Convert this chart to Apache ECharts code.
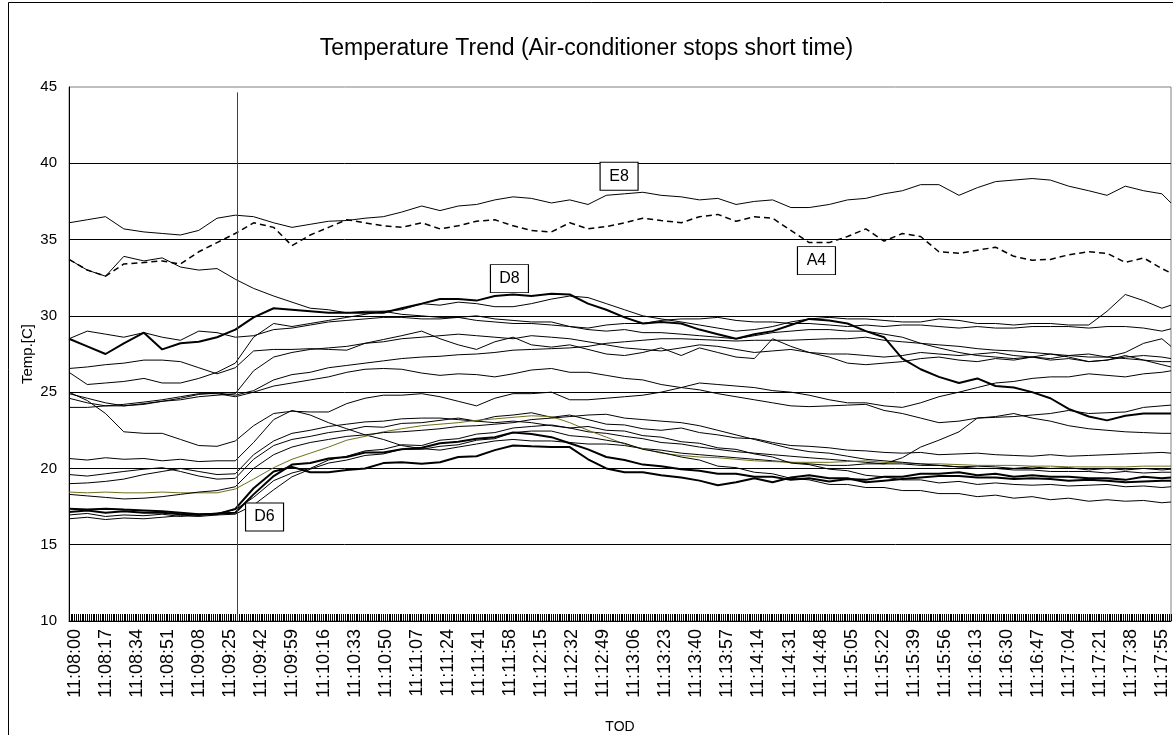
<!DOCTYPE html>
<html><head><meta charset="utf-8">
<script src="https://cdn.jsdelivr.net/npm/echarts@6/dist/echarts.min.js"></script>
<style>html,body{margin:0;padding:0;background:#fff}#c{width:1173px;height:735px}</style>
</head><body><div id="c"></div>
<script>
const titleText = 'Temperature Trend (Air-conditioner stops short time)';
const tickLabels = ['11:08:00','11:08:17','11:08:34','11:08:51','11:09:08','11:09:25','11:09:42','11:09:59','11:10:16','11:10:33','11:10:50','11:11:07','11:11:24','11:11:41','11:11:58','11:12:15','11:12:32','11:12:49','11:13:06','11:13:23','11:13:40','11:13:57','11:14:14','11:14:31','11:14:48','11:15:05','11:15:22','11:15:39','11:15:56','11:16:13','11:16:30','11:16:47','11:17:04','11:17:21','11:17:38','11:17:55'];
// seconds after 11:08:00 at which values were read
const sampleSec = [0,10,20,30,41,51,61,71,81,91, 101,112,122,132,142,152,162,172,182,193, 203,213,223,233,243,253,264,274,284,294, 304,314,324,335,345,355,365,375,385,395, 405,416,426,436,446,456,466,476,487,497, 507,517,527,537,547,558,568,578,588,598,603];

const E8 = [36.1,36.3,36.5,35.7,35.5,35.4,35.3,35.6,36.4,36.6, 36.5,36.1,35.8,36.0,36.2,36.25,36.4,36.5,36.8,37.2, 36.9,37.2,37.3,37.6,37.8,37.7,37.4,37.6,37.3,37.9, 38.0,38.1,37.9,37.8,37.6,37.7,37.3,37.5,37.6,37.1, 37.1,37.3,37.6,37.7,38.0,38.2,38.6,38.6,37.9,38.4, 38.8,38.9,39.0,38.9,38.5,38.2,37.9,38.5,38.2,38.0,37.4];
const A4 = [33.7,33.0,32.6,33.4,33.5,33.6,33.4,34.2,34.8,35.4, 36.1,35.8,34.6,35.3,35.8,36.3,36.1,35.9,35.8,36.1, 35.7,35.9,36.2,36.3,35.9,35.6,35.5,36.1,35.7,35.85, 36.1,36.4,36.25,36.1,36.5,36.65,36.2,36.5,36.4,35.6, 34.8,34.8,35.2,35.7,34.9,35.4,35.2,34.2,34.1,34.3, 34.5,33.9,33.65,33.7,34.0,34.2,34.1,33.5,33.8,33.1,32.8];
const B3 = [33.7,33.0,32.6,33.9,33.6,33.8,33.2,33.0,33.1,32.4, 31.8,31.3,30.9,30.5,30.4,30.2,30.3,30.3,30.4,30.8, 30.7,30.9,30.8,30.6,30.6,30.8,31.1,31.3,31.2,30.8, 30.4,30.0,29.8,29.6,29.4,29.2,29.0,29.1,29.3,29.6, 29.8,29.9,29.8,29.8,29.7,29.6,29.6,29.8,29.7,29.5, 29.5,29.4,29.5,29.5,29.4,29.4,30.3,31.4,31.0,30.5,30.7];
const D8 = [28.5,28.0,27.5,28.2,28.9,27.8,28.2,28.3,28.6,29.1, 29.9,30.5,30.4,30.3,30.2,30.2,30.2,30.2,30.5,30.8, 31.1,31.1,31.0,31.3,31.4,31.3,31.45,31.4,30.8,30.4, 29.9,29.5,29.6,29.5,29.1,28.8,28.5,28.8,29.0,29.4, 29.8,29.7,29.5,29.0,28.6,27.2,26.5,26.0,25.6,25.9, 25.4,25.3,25.0,24.6,23.9,23.4,23.15,23.45,23.6,23.6,23.6];
const C5 = [28.5,29.0,28.8,28.6,28.9,28.6,28.4,29.0,28.9,28.6, 28.7,29.1,29.2,29.4,29.6,29.7,29.8,29.9,29.9,29.8, 29.8,29.9,30.0,29.8,29.7,29.6,29.6,29.3,29.2,29.4, 29.5,29.5,29.7,29.8,29.8,29.9,29.7,29.6,29.6,29.5, 29.5,29.4,29.3,29.4,29.3,29.4,29.4,29.3,29.2,29.3, 29.2,29.2,29.3,29.3,29.3,29.2,29.3,29.3,29.2,29.0,29.15];
const C6 = [26.55,26.65,26.8,26.9,27.1,27.1,27.0,26.6,26.2,26.6, 27.7,27.8,27.8,27.85,27.8,27.75,28.2,28.45,28.7,29.0, 28.5,28.1,27.8,28.3,28.6,28.1,27.95,28.1,27.8,27.5, 27.4,27.6,27.9,27.4,27.9,27.6,27.3,27.2,28.5,28.0, 27.6,27.3,26.9,26.8,26.9,27.0,27.2,27.3,27.1,27.0, 27.2,27.1,27.3,27.5,27.3,27.0,27.1,27.4,27.1,26.8,26.65];
const C7 = [26.3,25.5,25.6,25.7,25.9,25.6,25.6,25.9,26.3,26.9, 28.6,29.5,29.3,29.5,29.7,29.9,30.1,30.3,30.1,30.0, 29.9,29.9,29.7,29.6,29.5,29.5,29.4,29.3,29.1,29.0, 29.1,28.9,28.9,28.8,28.7,28.6,28.5,28.7,28.9,29.0, 29.1,29.1,29.0,29.0,28.8,28.6,28.2,27.9,27.6,27.4, 27.3,27.2,27.3,27.1,27.2,27.0,27.1,27.3,27.4,27.3,27.2];
const C8 = [25.0,24.45,23.6,22.4,22.3,22.3,21.9,21.5,21.45,21.8, 22.8,23.6,23.75,23.7,23.7,24.25,24.6,24.8,24.8,24.9, 24.7,24.4,24.1,24.6,24.9,24.9,25.0,24.5,24.5,24.6, 24.7,24.8,25.0,25.3,25.6,25.5,25.4,25.3,25.1,25.0, 24.8,24.5,24.3,24.3,24.1,24.0,24.3,24.7,25.0,25.3, 25.6,25.7,25.9,26.0,26.0,26.2,26.1,26.0,26.2,26.3,26.4];
const C9 = [24.6,24.3,24.1,24.1,24.25,24.4,24.6,24.85,24.95,24.8, 25.1,25.8,26.15,26.3,26.6,26.75,26.9,27.05,27.2,27.3, 27.35,27.45,27.5,27.6,27.75,27.8,27.85,27.9,28.0,28.2, 28.3,28.4,28.5,28.5,28.45,28.4,28.35,28.4,28.4,28.4, 28.45,28.5,28.5,28.6,28.4,28.3,28.2,28.1,28.0,27.85, 27.75,27.7,27.6,27.5,27.4,27.3,27.3,27.6,28.2,28.5,28.0];
const C10 = [24.0,24.0,24.1,24.2,24.35,24.5,24.7,24.9,24.9,24.7, 25.0,25.4,25.6,25.8,26.0,26.3,26.5,26.55,26.5,26.25, 26.1,26.2,26.15,26.0,26.2,26.45,26.55,26.3,26.3,26.1, 25.9,25.8,25.5,25.3,25.15,24.9,24.7,24.5,24.3,24.1, 24.05,24.1,24.15,24.2,23.8,23.6,23.3,23.0,23.1,23.3, 23.35,23.4,23.5,23.6,23.8,23.6,23.65,23.7,24.0,24.1,24.15];
const C11 = [24.9,24.6,24.3,24.1,24.2,24.4,24.5,24.7,24.8,24.9, 26.4,27.3,27.6,27.8,27.9,28.0,28.2,28.3,28.5,28.6, 28.7,28.8,28.7,28.6,28.5,28.7,28.6,28.5,28.3,28.1, 27.9,27.8,27.7,27.9,28.1,28.0,27.8,27.6,27.7,27.8, 27.6,27.5,27.5,27.4,27.3,27.4,27.6,27.5,27.4,27.5, 27.6,27.4,27.3,27.2,27.4,27.5,27.3,27.2,27.1,27.0,27.0];
const L1 = [20.65,20.55,20.7,20.6,20.65,20.5,20.6,20.45,20.5,20.5, 21.7,23.2,23.8,23.5,23.0,22.6,22.2,21.9,21.5,21.3, 21.2,21.4,21.6,21.8,21.9,21.8,21.8,21.7,21.6,21.6, 21.5,21.3,21.2,21.0,20.9,20.8,20.7,20.6,20.5,20.4, 20.3,20.2,20.2,20.3,20.3,20.7,21.4,21.85,22.4,23.3, 23.4,23.6,23.3,23.1,22.8,22.6,22.5,22.4,22.35,22.3,22.3];
const L2 = [19.6,19.5,19.65,19.8,19.95,20.05,19.8,19.5,19.3,19.35, 20.6,21.5,21.9,22.1,22.35,22.5,22.75,22.7,22.95,23.0, 23.15,23.3,23.1,23.4,23.5,23.65,23.35,23.5,23.2,22.9, 22.85,22.6,22.5,22.65,22.35,22.2,22.0,21.95,21.7,21.5, 21.45,21.35,21.2,21.15,21.05,21.0,21.05,20.9,20.95,21.0, 20.9,20.85,20.8,20.9,20.8,20.85,20.9,20.95,21.0,21.05,21.0];
const L3 = [19.0,19.05,19.15,19.3,19.6,19.8,20.0,19.8,19.6,19.65, 20.9,21.8,22.3,22.5,22.75,22.9,23.05,23.1,23.25,23.3, 23.3,23.2,23.1,23.0,23.1,23.0,22.8,22.65,22.4,22.3, 22.1,21.95,21.7,21.6,21.4,21.25,21.1,21.0,20.9,20.8, 20.7,20.6,20.5,20.4,20.3,20.3,20.2,20.2,20.1,20.15, 20.1,20.0,20.1,20.0,20.05,19.9,20.0,19.9,20.0,19.9,19.95];
const L4 = [18.45,18.4,18.45,18.4,18.4,18.45,18.4,18.4,18.4,18.65, 19.3,20.05,20.6,21.0,21.4,21.85,22.1,22.4,22.6,22.8, 22.9,23.0,23.15,23.25,23.35,23.45,23.4,23.0,22.5,22.05, 21.6,21.3,21.0,20.85,20.75,20.7,20.6,20.5,20.45,20.4, 20.4,20.4,20.45,20.5,20.4,20.35,20.3,20.3,20.25,20.2, 20.2,20.2,20.15,20.15,20.1,20.1,20.1,20.1,20.15,20.15,20.15];
const L5 = [18.3,18.2,18.1,18.0,18.05,18.15,18.3,18.45,18.55,18.8, 20.0,20.9,21.4,21.7,21.9,22.1,22.2,22.35,22.4,22.5, 22.6,22.75,22.8,22.9,23.0,23.2,23.3,23.4,23.5,23.55, 23.3,23.2,23.1,23.0,22.8,22.5,22.2,21.9,21.6,21.3, 21.1,21.0,20.8,20.6,20.5,20.4,20.3,20.2,20.1,20.0, 20.0,19.9,19.9,19.8,19.8,19.8,19.7,19.8,19.7,19.75,19.75];
const D6 = [17.35,17.3,17.35,17.3,17.25,17.2,17.1,17.0,17.0,17.35, 18.7,19.8,20.1,19.75,19.75,19.9,20.0,20.35,20.4,20.3, 20.4,20.75,20.8,21.2,21.5,21.45,21.4,21.4,20.6,20.0, 19.75,19.75,19.55,19.4,19.2,18.9,19.1,19.35,19.1,19.4, 19.55,19.35,19.35,19.1,19.2,19.3,19.4,19.5,19.5,19.4, 19.4,19.3,19.35,19.3,19.2,19.25,19.2,19.1,19.15,19.2,19.2];
const T2 = [17.15,17.25,17.1,17.2,17.1,17.1,17.0,16.95,17.05,17.1, 18.3,19.5,20.25,20.35,20.65,20.75,21.05,21.05,21.25,21.35, 21.65,21.75,21.95,22.05,22.35,22.25,22.05,21.65,21.25,20.75, 20.55,20.25,20.15,19.95,19.85,19.65,19.65,19.45,19.45,19.25, 19.35,19.15,19.3,19.25,19.45,19.45,19.65,19.65,19.75,19.55, 19.65,19.45,19.55,19.45,19.45,19.35,19.35,19.25,19.45,19.35,19.4];
const L8 = [16.95,17.05,16.85,16.95,16.9,17.0,16.85,17.0,17.05,17.3, 18.1,19.2,19.7,20.0,20.55,20.8,21.15,21.25,21.55,21.5, 21.85,21.95,22.25,22.35,22.65,22.75,22.85,22.65,22.75,22.5, 22.45,22.15,22.05,21.75,21.65,21.35,21.25,20.95,20.75,20.35, 20.25,19.95,19.85,19.55,19.45,19.25,19.25,19.05,19.15,18.95, 19.05,18.95,18.9,18.95,18.85,18.9,18.95,18.8,18.85,18.75,18.8];
const L9 = [16.7,16.8,16.65,16.75,16.7,16.8,16.9,16.85,16.95,17.0, 17.6,18.6,19.45,19.95,20.35,20.55,20.85,20.95,21.25,21.25, 21.45,21.55,21.85,21.95,22.35,22.45,22.45,22.15,22.05,21.85, 21.65,21.25,21.05,20.75,20.55,20.15,20.05,19.75,19.65,19.35, 19.25,18.95,18.95,18.75,18.75,18.55,18.55,18.35,18.35,18.15, 18.25,18.05,18.15,17.95,18.05,17.85,17.95,17.85,17.9,17.75,17.8];

// event marker (AC stop) and annotation boxes: [seconds, temp]
const eventSec = 92, eventTop = 44.65;
const notes = { E8: [301, 39.15], A4: [409, 33.62], D8: [241, 32.44], D6: [107, 16.82] };

const defs = [
  {name:'E8', v:E8}, {name:'A4', v:A4, dashed:true}, {name:'B3', v:B3}, {name:'D8', v:D8, thick:true},
  {name:'C5', v:C5}, {name:'C6', v:C6}, {name:'C7', v:C7}, {name:'C8', v:C8}, {name:'C9', v:C9},
  {name:'C10', v:C10}, {name:'C11', v:C11}, {name:'L1', v:L1}, {name:'L2', v:L2}, {name:'L3', v:L3},
  {name:'L4', v:L4, color:'#6f6f1c'}, {name:'L5', v:L5}, {name:'D6', v:D6, thick:true}, {name:'T2', v:T2, thick:true},
  {name:'L8', v:L8}, {name:'L9', v:L9}
];

const FONT = 'Liberation Sans, Arial, sans-serif';
const series = defs.map((d, idx) => {
  const s = {
    name: d.name, type: 'line', symbol: 'none', silent: true, animation: false,
    data: d.v.map((y, i) => [sampleSec[i], y]),
    lineStyle: { color: d.color || '#000', width: d.thick ? 2 : (d.dashed ? 1.5 : 1), type: d.dashed ? [6, 4] : 'solid' },
    z: d.thick ? 3 : 2
  };
  if (notes[d.name]) {
    s.markPoint = {
      silent: true, animation: false, symbol: 'rect', symbolSize: [38, 28],
      itemStyle: { color: '#fff', borderColor: '#000', borderWidth: 1 },
      label: { show: true, position: 'inside', formatter: '{b}', color: '#000', fontSize: 16, fontFamily: FONT },
      data: [{ name: d.name, coord: notes[d.name] }]
    };
  }
  if (idx === 0) {
    s.markLine = {
      silent: true, animation: false, symbol: ['none', 'none'],
      lineStyle: { color: '#404040', width: 1, type: 'solid' }, label: { show: false },
      data: [[{ coord: [eventSec, 10] }, { coord: [eventSec, eventTop] }]]
    };
  }
  return s;
});

const chart = echarts.init(document.getElementById('c'), null, { renderer: 'canvas' });
chart.setOption({
  animation: false,
  backgroundColor: '#fff',
  textStyle: { fontFamily: FONT },
  title: { text: titleText, left: 'center', top: 32, textStyle: { fontSize: 23, fontWeight: 'normal', color: '#000', fontFamily: FONT } },
  graphic: [{ type: 'rect', silent: true, shape: { x: 8.5, y: 2.5, width: 1300, height: 900 }, style: { fill: 'none', stroke: '#000', lineWidth: 1 } }],
  grid: { left: 69, right: 2, top: 87, bottom: 114, outerBoundsMode: 'none', show: true, borderColor: '#808080', borderWidth: 1, backgroundColor: 'transparent' },
  xAxis: {
    type: 'value', min: 0, max: 603, interval: 17,
    name: 'TOD', nameLocation: 'middle', nameGap: 99, nameMoveOverlap: false,
    nameTextStyle: { fontSize: 14, color: '#000', fontFamily: FONT },
    axisLine: { show: true, lineStyle: { color: '#000', width: 1 } },
    axisTick: { show: true, inside: true, length: 7, lineStyle: { color: '#000', width: 1 } },
    minorTick: { show: true, splitNumber: 17, length: 7, lineStyle: { color: '#000', width: 1 } },
    axisLabel: {
      rotate: 90, fontSize: 18, color: '#000', fontFamily: FONT, margin: 8, verticalAlign: 'top', lineHeight: 12, showMaxLabel: false,
      formatter: v => (v % 17 === 0 && v / 17 < tickLabels.length) ? tickLabels[v / 17] : ''
    },
    splitLine: { show: false }, minorSplitLine: { show: false }
  },
  yAxis: {
    type: 'value', min: 10, max: 45, interval: 5,
    name: 'Temp.[C]', nameLocation: 'middle', nameGap: 34, nameMoveOverlap: false,
    nameTextStyle: { fontSize: 15, color: '#000', fontFamily: FONT },
    axisLine: { show: true, lineStyle: { color: '#000', width: 1 } },
    axisTick: { show: false },
    axisLabel: { fontSize: 15, color: '#000', margin: 12, fontFamily: FONT },
    splitLine: { show: true, showMinLine: false, showMaxLine: false, lineStyle: { color: '#000', width: 1 } }
  },
  series: series
});
</script>
</body></html>
